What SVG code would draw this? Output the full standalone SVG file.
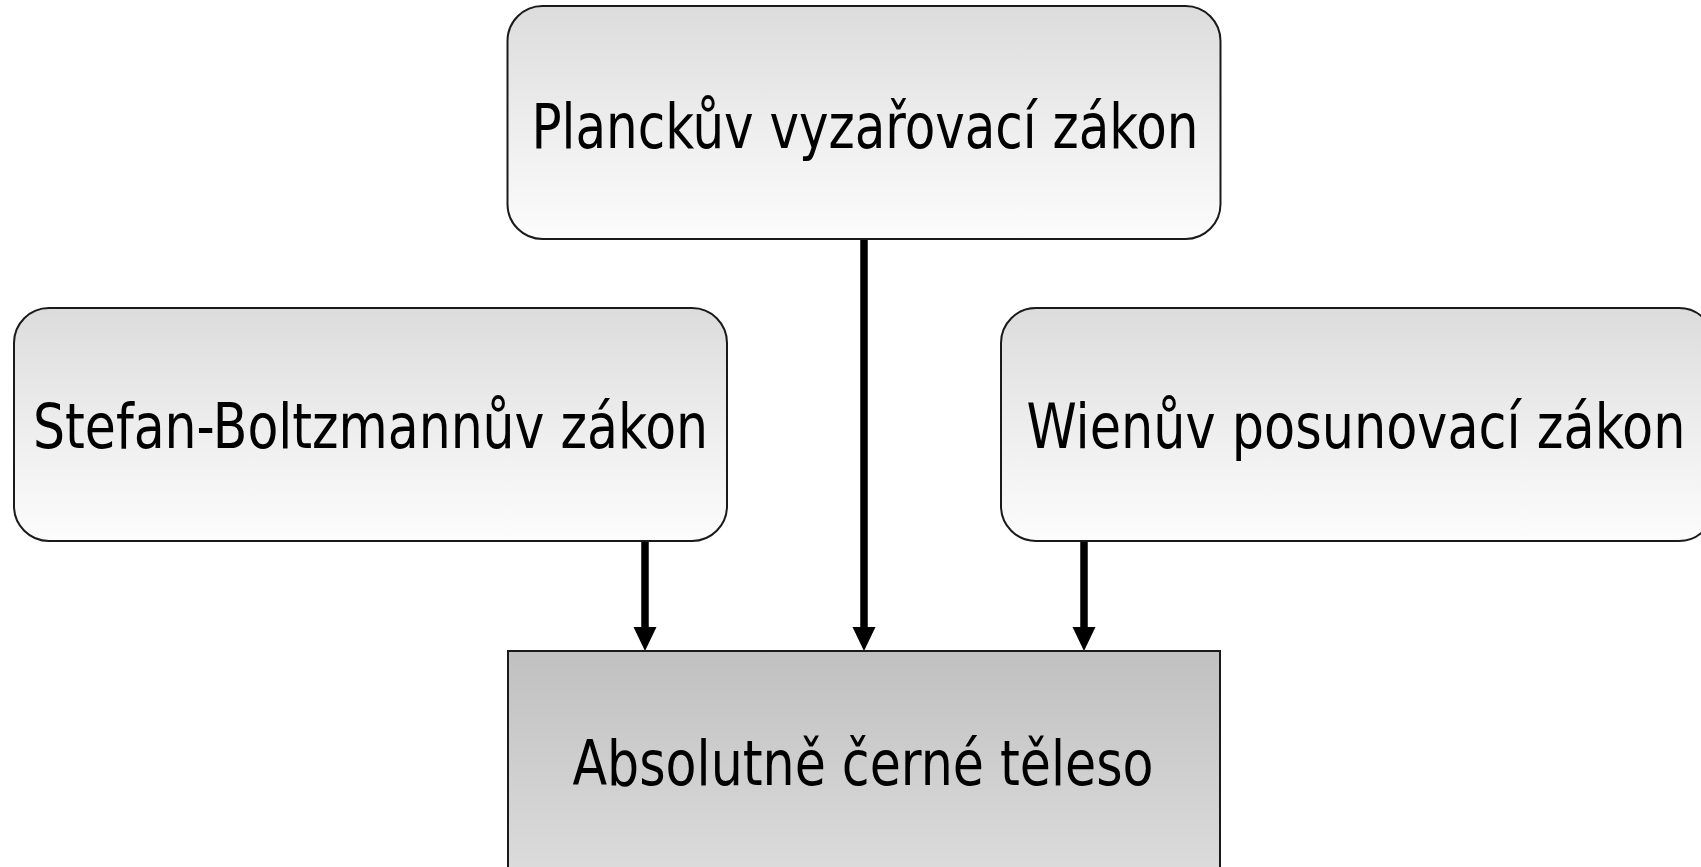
<svg xmlns="http://www.w3.org/2000/svg" width="1701" height="867" viewBox="0 0 1701 867">
  <style>
    .box { stroke: #1a1a1a; stroke-width: 2; fill: url(#gLight); }
    .base { stroke: #1a1a1a; stroke-width: 2; fill: url(#gDark); }
    .lbl { font-family: "DejaVu Sans Condensed", "DejaVu Sans", sans-serif; font-size: 62px; fill: #000; text-anchor: middle; }
    .conn { stroke: #000; stroke-width: 7.5; fill: none; marker-end: url(#arrow); }
  </style>
  <defs>
    <linearGradient id="gLight" x1="0" y1="0" x2="0" y2="1">
      <stop offset="0" stop-color="#dcdcdc"/>
      <stop offset="0.5" stop-color="#ededed"/>
      <stop offset="1" stop-color="#fcfcfc"/>
    </linearGradient>
    <linearGradient id="gDark" x1="0" y1="0" x2="0" y2="1">
      <stop offset="0" stop-color="#c0c0c0"/>
      <stop offset="1" stop-color="#dedede"/>
    </linearGradient>
    <marker id="arrow" markerUnits="userSpaceOnUse" markerWidth="25" markerHeight="24" refX="3" refY="11.5" orient="auto" viewBox="0 0 25 24">
      <path d="M0,0 L24,11.5 L0,23 z" fill="#000"/>
    </marker>
  </defs>
  <rect width="1701" height="867" fill="#ffffff"/>
  <g id="connectors">
    <line class="conn" x1="645" y1="541" x2="645" y2="630"/>
    <line class="conn" x1="864" y1="239" x2="864" y2="630"/>
    <line class="conn" x1="1084" y1="541" x2="1084" y2="630"/>
  </g>
  <g id="planck">
    <rect class="box" x="507.5" y="6" width="713" height="233" rx="35" ry="35"/>
    <text class="lbl" x="865" y="148" textLength="667" lengthAdjust="spacingAndGlyphs">Planckův vyzařovací zákon</text>
  </g>
  <g id="stefan">
    <rect class="box" x="14" y="308" width="713" height="233" rx="35" ry="35"/>
    <text class="lbl" x="370.5" y="448" textLength="675" lengthAdjust="spacingAndGlyphs">Stefan-Boltzmannův zákon</text>
  </g>
  <g id="wien">
    <rect class="box" x="1001" y="308" width="713" height="233" rx="35" ry="35"/>
    <text class="lbl" x="1356" y="448" textLength="659" lengthAdjust="spacingAndGlyphs">Wienův posunovací zákon</text>
  </g>
  <g id="teleso">
    <rect class="base" x="508" y="651" width="712" height="240"/>
    <text class="lbl" x="863" y="785" textLength="581" lengthAdjust="spacingAndGlyphs">Absolutně černé těleso</text>
  </g>
</svg>
